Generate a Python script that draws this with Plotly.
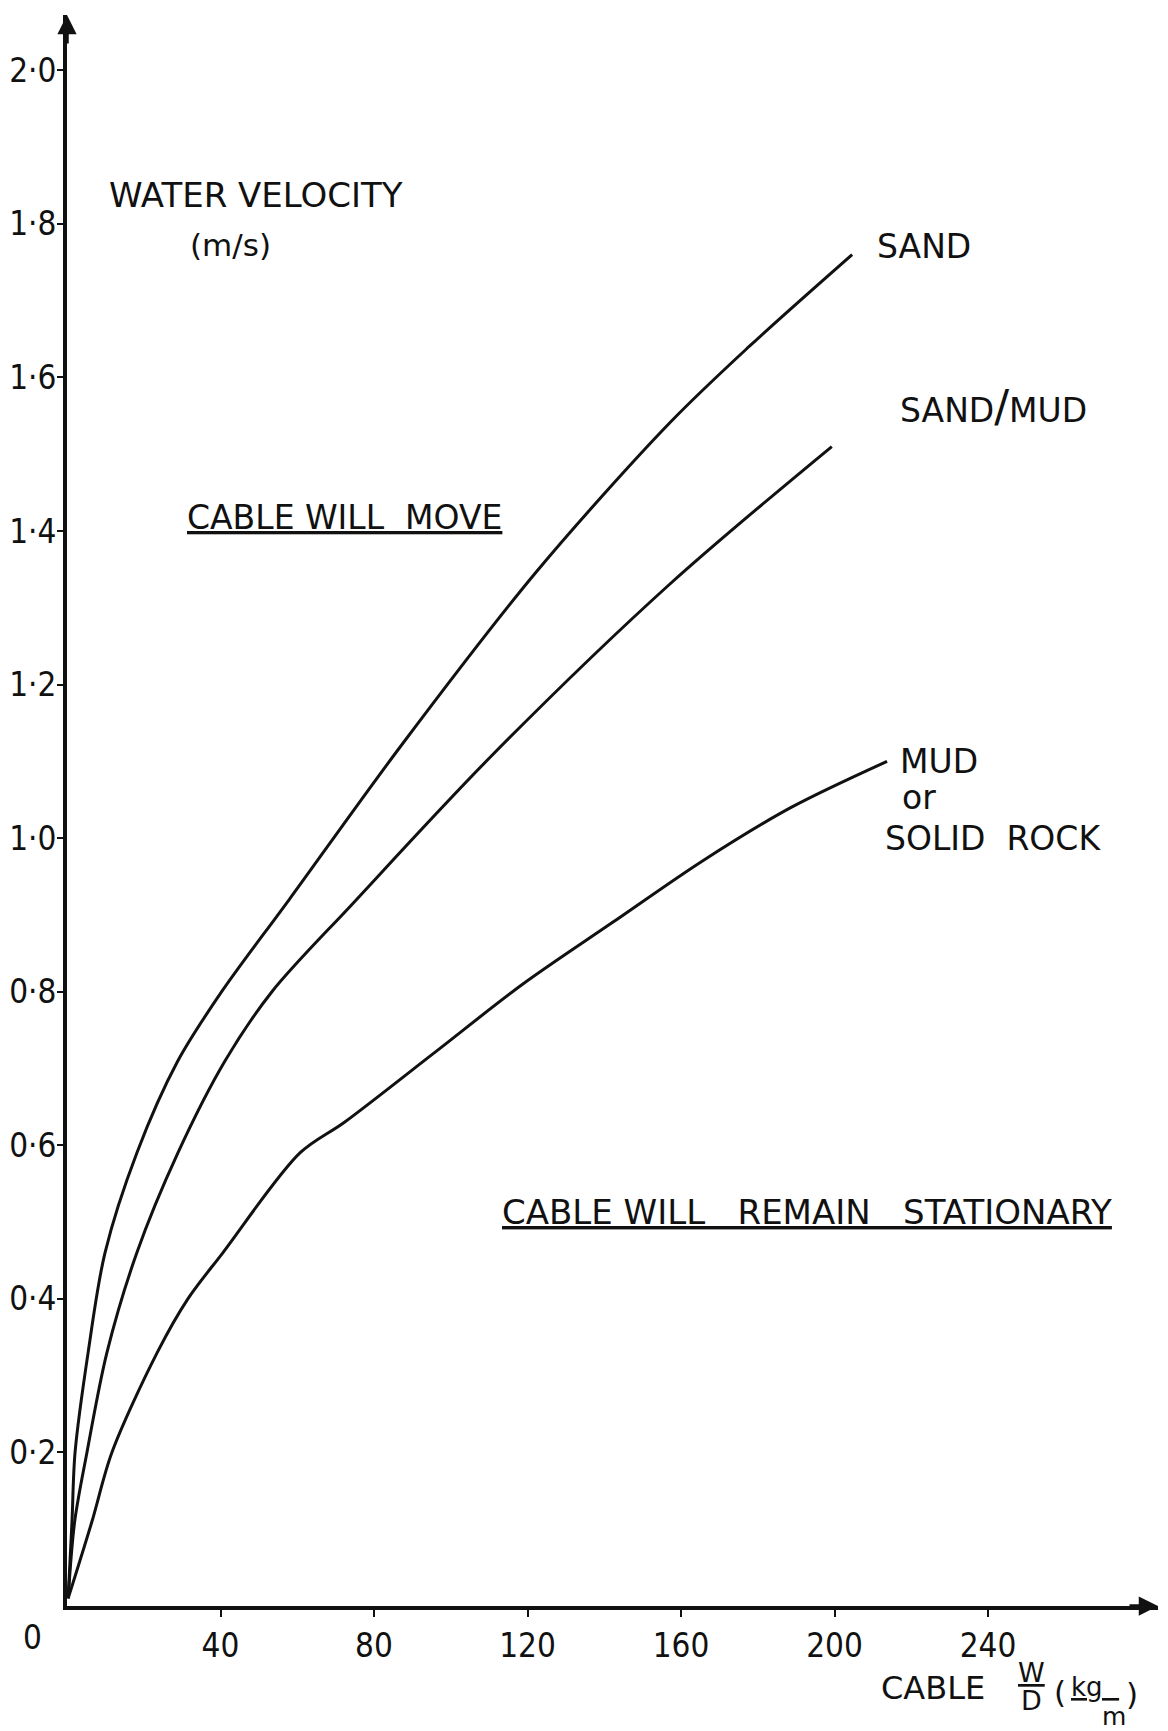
import plotly.graph_objects as go

# Cable W/D (kg/m) against critical water velocity (m/s) for each seabed type
sand_wd = [0.3, 1.3, 2.1, 5.5, 9.9, 18.2, 28.9, 40.3, 57.9, 87.0, 122.0,
           156.9, 177.7, 204.6]
sand_vel = [0.01, 0.11, 0.20, 0.33, 0.46, 0.59, 0.71, 0.80, 0.92, 1.12, 1.345,
            1.54, 1.64, 1.76]

sandmud_wd = [0.3, 2.0, 5.2, 10.4, 18.2, 28.9, 41.2, 53.4, 74.5, 110.2,
              156.9, 199.3]
sandmud_vel = [0.01, 0.11, 0.20, 0.33, 0.46, 0.59, 0.71, 0.80, 0.915, 1.105,
               1.33, 1.51]

mud_wd = [0.3, 6.5, 11.7, 23.5, 31.5, 40.6, 60.7, 72.3, 95.6, 118.8, 142.1,
          165.5, 188.7, 213.7]
mud_vel = [0.01, 0.11, 0.20, 0.33, 0.40, 0.46, 0.59, 0.63, 0.72, 0.81, 0.89,
           0.97, 1.04, 1.10]

x_ticks = [40, 80, 120, 160, 200, 240]
x_tick_text = ["40", "80", "120", "160", "200", "240"]
y_ticks = [0.2, 0.4, 0.6, 0.8, 1.0, 1.2, 1.4, 1.6, 1.8, 2.0]
y_tick_text = ["0·2", "0·4", "0·6", "0·8", "1·0", "1·2", "1·4", "1·6", "1·8", "2·0"]

X_MAX = 284.3
Y_MAX = 2.072

INK = "#111111"
TEXT_FONT = "DejaVu Sans, Verdana, sans-serif"
NUM_FONT = "DejaVu Sans Condensed, DejaVu Sans, sans-serif"

fig = go.Figure()
for xs, ys in [(sand_wd, sand_vel), (sandmud_wd, sandmud_vel), (mud_wd, mud_vel)]:
    fig.add_trace(go.Scatter(
        x=xs, y=ys, mode="lines",
        line=dict(color=INK, width=3, shape="spline", smoothing=0.9),
        hoverinfo="skip", showlegend=False,
    ))

fig.update_layout(
    width=1168, height=1731,
    margin=dict(l=67, r=10, t=15, b=125),
    paper_bgcolor="white", plot_bgcolor="white",
    showlegend=False,
    xaxis=dict(
        range=[0, X_MAX], showgrid=False, zeroline=False, automargin=False,
        showline=True, linecolor=INK, linewidth=4,
        ticks="outside", ticklen=7, tickwidth=2, tickcolor=INK,
        tickvals=x_ticks, ticktext=x_tick_text,
        tickfont=dict(family=NUM_FONT, size=33, color=INK),
    ),
    yaxis=dict(
        range=[0, Y_MAX], showgrid=False, zeroline=False, automargin=False,
        showline=True, linecolor=INK, linewidth=4,
        ticks="outside", ticklen=6, tickwidth=2, tickcolor=INK,
        tickvals=y_ticks, ticktext=y_tick_text, ticklabelstandoff=-6,
        tickfont=dict(family=NUM_FONT, size=33, color=INK),
    ),
)

# arrowheads at the ends of both axes
fig.add_annotation(x=X_MAX, y=0, xref="x", yref="y", text="", showarrow=True,
                   ax=-30, ay=0, arrowhead=2, arrowsize=1.1, arrowwidth=3.5,
                   arrowcolor=INK, standoff=0)
fig.add_annotation(x=0, y=Y_MAX, xref="x", yref="y", text="", showarrow=True,
                   ax=0, ay=30, arrowhead=2, arrowsize=1.1, arrowwidth=3.5,
                   arrowcolor=INK, standoff=0)


def label(x, y, text, size=33, xanchor="left", family=TEXT_FONT, ref="data"):
    xr, yr = ("x", "y") if ref == "data" else ("paper", "paper")
    fig.add_annotation(x=x, y=y, xref=xr, yref=yr, text=text, showarrow=False,
                       xanchor=xanchor, yanchor="middle",
                       font=dict(family=family, size=size, color=INK))


NB = "\u00a0"

# y-axis title
label(10.4, 1.837, "WATER" + NB + "VELOCITY", size=34)
label(42.7, 1.772, "(m/s)", size=31, xanchor="center")

# curve labels
label(210.6, 1.771, "SAND")
label(216.5, 1.562, "SAND<span style='font-size:44px'>/</span>MUD")
label(216.5, 1.100, "MUD")
label(217.0, 1.053, "or")
label(212.6, 1.000, "SOLID" + NB + NB + "ROCK")

# region labels
label(30.7, 1.417, "<u>CABLE" + NB + "WILL" + NB + NB + "MOVE</u>", size=33)
label(112.8, 0.513,
      "<u>CABLE" + NB + "WILL" + NB + NB + NB + "REMAIN" + NB + NB + NB
      + "STATIONARY</u>", size=34)

# origin label and x-axis title: CABLE W/D (kg/m), placed below the plot area
label(-0.0312, -0.0195, "0", size=33, xanchor="center", family=NUM_FONT, ref="paper")
label(0.7443, -0.0515, "CABLE", size=32, ref="paper")
label(0.8845, -0.0420, "<u>W</u>", size=27, xanchor="center", ref="paper")
label(0.8845, -0.0595, "D", size=27, xanchor="center", ref="paper")
label(0.9102, -0.0541, "(", size=31, xanchor="center", ref="paper")
label(0.9425, -0.0510, "<u>kg" + NB + NB + "</u>", size=26, xanchor="center", ref="paper")
label(0.9600, -0.0695, "m", size=25, xanchor="center", ref="paper")
label(0.9760, -0.0553, ")", size=31, xanchor="center", ref="paper")

fig.write_html("out.html")
